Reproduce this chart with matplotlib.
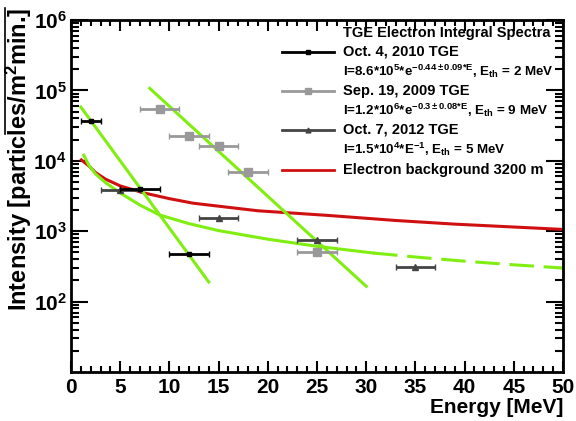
import matplotlib
matplotlib.use("Agg")
import matplotlib.pyplot as plt
from matplotlib.ticker import MultipleLocator, LogLocator, NullFormatter
from matplotlib.lines import Line2D

plt.rcParams['font.family'] = ['Liberation Sans', 'DejaVu Sans']
plt.rcParams['font.weight'] = 'bold'
plt.rcParams['mathtext.fontset'] = 'custom'
plt.rcParams['mathtext.rm'] = 'Liberation Sans:bold'
plt.rcParams['mathtext.it'] = 'Liberation Sans:bold'
plt.rcParams['mathtext.bf'] = 'Liberation Sans:bold'

# measured points (energy MeV, intensity)
oct2010_E = [2, 7, 12]
oct2010_I = [3.7e4, 4.0e3, 470]
oct2010_xerr = [1, 2, 2]

sep2009_E = [9, 12, 15, 18, 25]
sep2009_I = [5.5e4, 2.27e4, 1.6e4, 6.9e3, 500]
sep2009_xerr = [2, 2, 2, 2, 2]

oct2012_E = [5, 15, 25, 35]
oct2012_I = [3.85e3, 1.52e3, 750, 313]
oct2012_xerr = [2, 2, 2, 2]

# fit lines
fit2010_E = [1, 14]
fit2010_I = [5.8e4, 190]
fit2009_E = [8, 30]
fit2009_I = [1.07e5, 165]
fit2012_E = [1.3, 1.8, 2.5, 3.5, 5, 7, 9, 12, 15, 20, 25, 30.7]
fit2012_I = [1.2e4, 8.7e3, 6.5e3, 4.9e3, 3.5e3, 2.35e3, 1.7e3, 1.28e3, 1.02e3, 770, 610, 490]
ext2012_E = [30.7, 35, 40, 45, 50]
ext2012_I = [490, 430, 375, 333, 300]

bg_E = [1.05, 1.8, 2.5, 3.5, 5, 7.4, 10, 12.4, 19, 26, 33, 39, 50]
bg_I = [1.03e4, 8.5e3, 6.8e3, 5.5e3, 4.4e3, 3.5e3, 2.9e3, 2.5e3, 1.95e3, 1.68e3, 1.42e3, 1.26e3, 1.06e3]

green = '#80ee10'
red = '#d01010'
c2010 = 'black'
c2009 = '#999999'
c2012 = '#444444'

fig = plt.figure(figsize=(5.76, 4.21), dpi=100)
ax = fig.add_axes([71/576, 1-372/421, 492/576, 352/421])

ax.plot(bg_E, bg_I, color=red, lw=2.2)
ax.plot(fit2010_E, fit2010_I, color=green, lw=2.2)
ax.plot(fit2009_E, fit2009_I, color=green, lw=2.2)
ax.plot(fit2012_E, fit2012_I, color=green, lw=2.2)
ax.plot(ext2012_E, ext2012_I, color=green, lw=2.2, dashes=(8, 3.2), dash_capstyle='butt')

ax.errorbar(sep2009_E, sep2009_I, xerr=sep2009_xerr, fmt='s', color=c2009, ms=6,
            elinewidth=2, capsize=2, zorder=5)
ax.errorbar(oct2012_E, oct2012_I, xerr=oct2012_xerr, fmt='^', color=c2012, ms=4,
            elinewidth=2, capsize=2, zorder=5)
ax.errorbar(oct2010_E, oct2010_I, xerr=oct2010_xerr, fmt='s', color=c2010, ms=3.5,
            elinewidth=2, capsize=2.5, zorder=6)

ax.set_xlim(0, 50)
ax.set_yscale('log')
ax.set_ylim(10, 1e6)
ax.xaxis.set_major_locator(MultipleLocator(5))
ax.xaxis.set_minor_locator(MultipleLocator(1))
ax.set_yticks([1e2, 1e3, 1e4, 1e5, 1e6])
ax.yaxis.set_minor_locator(LogLocator(base=10, subs=range(2, 10), numticks=20))
ax.yaxis.set_minor_formatter(NullFormatter())
ax.tick_params(which='both', direction='in', top=True, right=True, labelsize=15, width=1.5)
ax.tick_params(axis='x', which='major', length=8, pad=4)
ax.tick_params(axis='x', which='minor', length=4)
ax.tick_params(axis='y', which='major', length=12, pad=3)
ax.tick_params(axis='y', which='minor', length=6)
for s in ax.spines.values():
    s.set_linewidth(2)

ax.set_xlabel('Energy [MeV]', fontsize=15, fontweight='bold', loc='right', labelpad=1)
fig.text(19/576, 1-8/421, 'Intensity [particles/m$^2$min.]', rotation=90,
         ha='center', va='top', fontsize=17, fontweight='bold')
fig.add_artist(Line2D([5/576, 5/576], [1-8/421, 1-134/421], color='black', lw=1.2))

# legend drawn by hand
def fy(py):
    return 1 - (py - 20) / 352

hx0 = (282-71)/492
hx1 = (334-71)/492
tx = (343-71)/492
fs = 10.5
ffs = 9.6
ax.text(tx, fy(33), 'TGE Electron Integral Spectra', transform=ax.transAxes,
        fontsize=fs, fontweight='bold', va='center')
rows = [
    (52, c2010, 's', 3.5, 'Oct. 4, 2010 TGE',
     r'I=8.6*10$^{5}$*e$^{-0.44\pm0.09{*}E}$, E$_{th}$ = 2 MeV'),
    (91, c2009, 's', 5, 'Sep. 19, 2009 TGE',
     r'I=1.2*10$^{6}$*e$^{-0.3\pm0.08{*}E}$, E$_{th}$ = 9 MeV'),
    (130, c2012, '^', 3.5, 'Oct. 7, 2012 TGE',
     r'I=1.5*10$^{4}$*E$^{-1}$, E$_{th}$ = 5 MeV'),
]
for py, col, mk, ms, lab, form in rows:
    ax.plot([hx0, hx1], [fy(py), fy(py)], color=col, lw=2, transform=ax.transAxes, clip_on=False)
    ax.plot([(hx0+hx1)/2], [fy(py)], marker=mk, color=col, ms=ms, transform=ax.transAxes, clip_on=False)
    ax.text(tx, fy(py), lab, transform=ax.transAxes, fontsize=fs, fontweight='bold', va='center')
    ax.text(tx, fy(py+19.5), form, transform=ax.transAxes, fontsize=ffs, fontweight='bold', va='center')
ax.plot([hx0, hx1], [fy(170), fy(170)], color=red, lw=2, transform=ax.transAxes, clip_on=False)
ax.text(tx, fy(170), 'Electron background 3200 m', transform=ax.transAxes,
        fontsize=fs, fontweight='bold', va='center')

fig.savefig('out.png', dpi=100)
